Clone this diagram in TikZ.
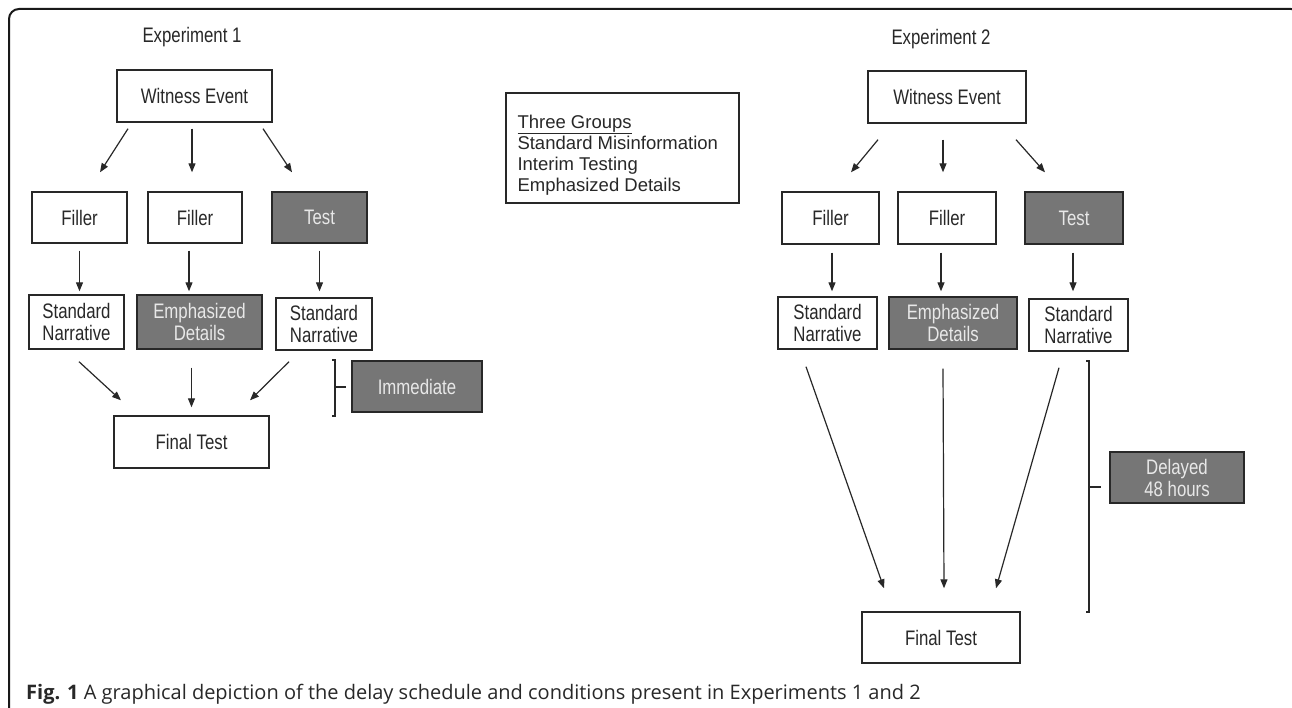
\documentclass[tikz,border=0pt]{standalone}
\usepackage{fontspec}
\setmainfont{Liberation Sans}
\newfontfamily\boxfont[FakeStretch=0.8]{Liberation Sans}
\newfontfamily\capfont{Open Sans}
\usepackage{tikz}
\usetikzlibrary{calc}
\usetikzlibrary{arrows.meta}
\definecolor{ink}{RGB}{40,40,40}
\definecolor{boxgray}{RGB}{118,118,118}
\definecolor{palegray}{RGB}{232,232,232}
\tikzset{
  plainbox/.style={draw=ink, line width=1.4pt, fill=white, text=ink, inner sep=0pt,
    align=center, font=\boxfont\fontsize{21}{22}\selectfont},
  shadebox/.style={plainbox, fill=boxgray, text=palegray},
  flow/.style={-{Triangle[length=9pt,width=7pt]}, line width=1.2pt, draw=ink},
  brace line/.style={line width=2pt, draw=ink},
  title/.style={text=ink, font=\boxfont\fontsize{21}{22}\selectfont},
}

\begin{document}
\begin{tikzpicture}[x=1pt, y=-1pt]
    \useasboundingbox (0,0) rectangle (1292,708);
    \fill[white] (0,0) rectangle (1292,708);
    \clip (0,0) rectangle (1292,708);
    \draw[line width=2pt, draw=black!90, rounded corners=10pt] (9,730) -- (9,9) -- (1301,9) -- (1301,730);

    % Experiment 1
    \node[title] (exp1) at (192,37) {Experiment 1};
    \node[plainbox, minimum width=155pt, minimum height=52pt] (we1) at (194.5,96) {Witness Event};
    \node[plainbox, minimum width=95pt, minimum height=51pt] (fa1) at (79.5,217.5) {Filler};
    \node[plainbox, minimum width=94pt, minimum height=51pt] (fb1) at (195,217.5) {Filler};
    \node[shadebox, minimum width=95pt, minimum height=51pt] (tc1) at (319.5,217.5) {Test};
    \node[plainbox, minimum width=95pt, minimum height=54pt] (sa1) at (76.5,322) {Standard\\Narrative};
    \node[shadebox, minimum width=125pt, minimum height=54pt] (sb1) at (199.5,322) {Emphasized\\Details};
    \node[plainbox, minimum width=96pt, minimum height=52pt] (sc1) at (324,324) {Standard\\Narrative};
    \node[plainbox, minimum width=155pt, minimum height=52pt] (ft1) at (191.5,442) {Final Test};
    \node[shadebox, minimum width=130pt, minimum height=51pt] (imm) at (417,386.5) {Immediate};

    \draw[flow] ($(we1.south)+(-66.5,6)$) -- ($(fa1.north)+(20.5,-19)$);
    \draw[flow] ($(we1.south)+(-2.5,6)$) -- ($(fb1.north)+(-3,-19)$);
    \draw[flow] ($(we1.south)+(68.5,6)$) -- ($(tc1.north)+(-27.5,-19)$);
    \draw[flow] ($(fa1.south)+(0,7)$) -- ($(fa1.south |- sa1.north)+(0,-3)$);
    \draw[flow] ($(fb1.south)+(-6,7)$) -- ($(fb1.south |- sb1.north)+(-6,-3)$);
    \draw[flow] ($(tc1.south)+(0,7)$) -- ($(tc1.south |- sc1.north)+(0,-6)$);
    \draw[flow] ($(sa1.south)+(2.5,12)$) -- ($(ft1.north)+(-70.5,-15)$);
    \draw[flow] ($(sb1.south)+(-8,18)$) -- ($(ft1.north)+(0,-8)$);
    \draw[flow] ($(sc1.south)+(-35,11)$) -- ($(ft1.north)+(58.5,-15)$);

    \coordinate (br1) at ($(imm.west)+(-16,0)$);
    \draw[brace line] ($(br1)+(-3,-27)$) -- ($(br1)+(0,-27)$) -- ($(br1)+(0,29)$) -- ($(br1)+(-3,29)$);
    \draw[brace line] (br1) -- ($(imm.west)+(-5,0)$);

    % three groups
    \node[draw=ink, line width=1.4pt, minimum width=233pt, minimum height=110pt, inner sep=0pt] (grp) at (622.5,148) {};
    \node[anchor=west, align=left, text=ink, inner sep=0pt, font=\fontsize{18.5}{21}\selectfont] (grptxt) at ($(grp.west)+(12,7)$)
      {\underline{Three Groups}\\Standard Misinformation\\Interim Testing\\Emphasized Details};

    % Experiment 2
    \node[title] (exp2) at (941,39) {Experiment 2};
    \node[plainbox, minimum width=158pt, minimum height=52pt] (we2) at (947,97) {Witness Event};
    \node[plainbox, minimum width=97pt, minimum height=52pt] (fa2) at (830.5,218) {Filler};
    \node[plainbox, minimum width=98pt, minimum height=52pt] (fb2) at (947,218) {Filler};
    \node[shadebox, minimum width=98pt, minimum height=52pt] (tc2) at (1074,218) {Test};
    \node[plainbox, minimum width=99pt, minimum height=52pt] (sa2) at (827.5,323) {Standard\\Narrative};
    \node[shadebox, minimum width=128pt, minimum height=52pt] (sb2) at (953,323) {Emphasized\\Details};
    \node[plainbox, minimum width=99pt, minimum height=52pt] (sc2) at (1078.5,325) {Standard\\Narrative};
    \node[plainbox, minimum width=158pt, minimum height=51pt] (ft2) at (941,637.5) {Final Test};
    \node[shadebox, minimum width=134pt, minimum height=51pt] (del) at (1177,477.5) {Delayed\\48 hours};

    \draw[flow] ($(we2.south)+(-69,16)$) -- ($(fa2.north)+(20.5,-19)$);
    \draw[flow] ($(we2.south)+(-4,16)$) -- ($(fb2.north)+(-4,-19)$);
    \draw[flow] ($(we2.south)+(69,16)$) -- ($(tc2.north)+(-29,-19)$);
    \draw[flow] ($(fa2.south)+(1.5,8)$) -- ($(fa2.south |- sa2.north)+(1.5,-5)$);
    \draw[flow] ($(fb2.south)+(-6,8)$) -- ($(fb2.south |- sb2.north)+(-6,-5)$);
    \draw[flow] ($(tc2.south)+(-1,8)$) -- ($(tc2.south |- sc2.north)+(-1,-7)$);
    \draw[flow] ($(sa2.south)+(-21.5,17)$) -- ($(ft2.north)+(-57,-23)$);
    \draw[flow] ($(sb2.south)+(-10,19)$) -- ($(ft2.north)+(3,-23)$);
    \draw[flow] ($(sc2.south)+(-19.5,16)$) -- ($(ft2.north)+(55,-23)$);

    \coordinate (br2) at (1089,486.5);
    \draw[brace line] ($(br2)+(-3,-125.5)$) -- ($(br2)+(0,-125.5)$) -- ($(br2)+(0,125.5)$) -- ($(br2)+(-3,125.5)$);
    \draw[brace line] (br2) -- ($(br2 -| del.west)+(-8,0)$);

    \node[anchor=base west, inner sep=0pt, text=ink, font=\capfont\fontsize{20}{22}\selectfont] (cap) at (26,699)
      {\textbf{Fig. 1} A graphical depiction of the delay schedule and conditions present in Experiments 1 and 2};
\end{tikzpicture}
\end{document}
